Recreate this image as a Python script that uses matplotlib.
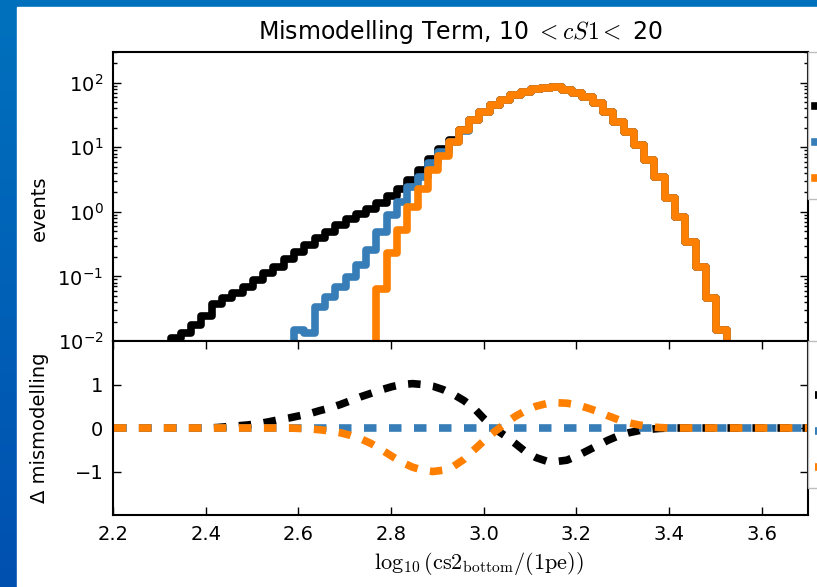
import numpy as np
import matplotlib
matplotlib.use('Agg')
import matplotlib.pyplot as plt
from matplotlib.patches import Rectangle
from matplotlib.colors import LinearSegmentedColormap

plt.rcParams['lines.scale_dashes'] = False

# binning in log10(cs2_bottom)
bin_lo = 2.1908
bin_width = 1 / 45
n_bins = 69

# events per bin
events_data = [0.002, 0.0025, 0.003, 0.004, 0.005, 0.0075, 0.011, 0.0135, 0.0177, 0.024,
               0.038, 0.046, 0.056, 0.069, 0.088, 0.112, 0.142, 0.184, 0.242, 0.307,
               0.389, 0.49, 0.625, 0.77, 0.93, 1.1, 1.36, 1.75, 2.3, 3.1,
               4.45, 6.5, 9.3, 13.0, 18.5, 26.5, 35.6, 45, 55, 64.5,
               72.6, 79, 84, 85, 77, 68.5, 59.4, 48, 35.6, 24.9,
               17.4, 10.8, 6.35, 3.5, 1.62, 0.84, 0.345, 0.142, 0.046, 0.0148,
               0, 0, 0, 0, 0, 0, 0, 0, 0]
events_nominal = [0, 0, 0, 0, 0, 0, 0, 0, 0, 0,
                  0, 0, 0, 0, 0, 0, 0, 0, 0.015, 0.0133,
                  0.034, 0.0475, 0.069, 0.099, 0.15, 0.257, 0.49, 0.9, 1.4, 2.4,
                  3.5, 5.65, 8.5, 12.2, 18.0, 26.5, 35.6, 45, 55, 64.5,
                  72.6, 79, 84, 85, 77, 68.5, 59.4, 48, 35.6, 24.9,
                  17.4, 10.8, 6.35, 3.5, 1.62, 0.84, 0.345, 0.142, 0.046, 0.0148,
                  0, 0, 0, 0, 0, 0, 0, 0, 0]
events_mismod = [0, 0, 0, 0, 0, 0, 0, 0, 0, 0,
                 0, 0, 0, 0, 0, 0, 0, 0, 0, 0,
                 0, 0, 0, 0, 0, 0, 0.063, 0.228, 0.53, 1.21,
                 2.3, 4.45, 7.4, 12.0, 18.5, 26.5, 35.6, 45, 55, 64.5,
                 72.6, 79, 84, 85, 77, 68.5, 59.4, 48, 35.6, 24.9,
                 17.4, 10.8, 6.35, 3.5, 1.62, 0.84, 0.345, 0.142, 0.046, 0.0148,
                 0, 0, 0, 0, 0, 0, 0, 0, 0]

# mismodelling term per bin
mism_data = [0, 0, 0, 0, 0, 0, 0, 0, 0, 0,
             0.01, 0.03, 0.05, 0.07, 0.1, 0.14, 0.19, 0.23, 0.28, 0.33,
             0.4, 0.46, 0.54, 0.63, 0.72, 0.8, 0.88, 0.95, 1.0, 1.02,
             1.0, 0.96, 0.88, 0.77, 0.63, 0.45, 0.2, -0.02, -0.18, -0.36,
             -0.55, -0.68, -0.76, -0.77, -0.74, -0.64, -0.52, -0.4, -0.28, -0.18,
             -0.11, -0.06, -0.03, -0.01, 0, 0, 0, 0, 0, 0,
             0, 0, 0, 0, 0, 0, 0, 0, 0]
mism_nominal = [0] * n_bins
mism_mismod = [0, 0, 0, 0, 0, 0, 0, 0, 0, 0,
               0, 0, 0, 0, 0, 0, 0, 0, -0.01, -0.02,
               -0.04, -0.07, -0.11, -0.17, -0.25, -0.36, -0.5, -0.65, -0.79, -0.9,
               -0.97, -1.0, -0.97, -0.88, -0.72, -0.5, -0.28, -0.08, 0.1, 0.27,
               0.4, 0.5, 0.56, 0.58, 0.57, 0.53, 0.46, 0.38, 0.28, 0.19,
               0.12, 0.07, 0.03, 0.01, 0, 0, 0, 0, 0, 0,
               0, 0, 0, 0, 0, 0, 0, 0, 0]

labels = ['data', 'model, no mismodelling', 'model + mismodelling']
colors = ['black', '#377eb8', '#ff7f00']

edges = bin_lo + bin_width * np.arange(n_bins + 1)
centers = edges[:-1] + bin_width / 2

W, H = 817, 587
fig = plt.figure(figsize=(W / 100, H / 100), dpi=100)

# slide background: blue frame on top and left
bg = fig.add_axes([0, 0, 1, 1], zorder=-10)
bg.axis('off')
blue = LinearSegmentedColormap.from_list('slide', ['#0071bd', '#0050b0'])
bg.imshow(np.linspace(0, 1, 256).reshape(-1, 1), cmap=blue, aspect='auto',
          extent=[0, 1, 0, 1])
bg.add_patch(Rectangle((17 / W, 0), 1, 1 - 7 / H, color='white'))
bg.set_xlim(0, 1)
bg.set_ylim(0, 1)

gs = fig.add_gridspec(2, 1, height_ratios=[289, 174], hspace=0,
                      left=113 / W, right=808 / W, top=1 - 52 / H, bottom=1 - 515 / H)
ax1 = fig.add_subplot(gs[0])
ax2 = fig.add_subplot(gs[1], sharex=ax1)

lw = 5.5
for vals, c, lab in zip([events_data, events_nominal, events_mismod], colors, labels):
    st = ax1.stairs(vals, edges, baseline=None, color=c, lw=lw, label=lab)
    st.set_joinstyle('round')

for vals, c, lab in zip([mism_data, mism_nominal, mism_mismod], colors, labels):
    ax2.plot(centers, vals, color=c, lw=lw, dashes=(9, 9), label=lab)

ax1.set_yscale('log')
ax1.set_ylim(1e-2, 3e2)
ax1.set_xlim(2.2, 3.7)
ax2.set_ylim(-2, 2)
ax2.set_yticks([-1, 0, 1])
ax2.set_xticks([2.2, 2.4, 2.6, 2.8, 3.0, 3.2, 3.4, 3.6])

for ax in (ax1, ax2):
    ax.tick_params(which='both', direction='in', right=True, labelsize=14, pad=7, width=1)
    ax.tick_params(which='major', length=6)
    ax.tick_params(which='minor', length=3)
    for s in ax.spines.values():
        s.set_linewidth(1.5)
ax1.tick_params(axis='x', which='both', bottom=False, top=False, labelbottom=False)
ax2.tick_params(axis='x', top=True)

ax1.set_title('Mismodelling Term, 10 $<cS1<$ 20', fontsize=17, pad=9,
              math_fontfamily='cm')
ax1.set_ylabel('events', fontsize=14)
ax2.set_ylabel('Δ mismodelling', fontsize=14)
ax1.yaxis.set_label_coords(-0.092, 0.46)
ax2.yaxis.set_label_coords(-0.092, 0.5)
ax2.set_xlabel(r'$\log_{10}(\mathrm{cs2}_{\mathrm{bottom}}/(1\mathrm{pe}))$',
               fontsize=16, math_fontfamily='cm')
ax2.xaxis.set_label_coords(0.527, -0.2)

# legends sit just outside the right edge
for ax in (ax1, ax2):
    ax.legend(title='sample', loc='upper left', bbox_to_anchor=(1.0, 1.0),
              borderaxespad=0, borderpad=0.3, fontsize=17.5, title_fontsize=17.5,
              fancybox=False, edgecolor='#bdbdbd', framealpha=1)

fig.savefig('out.png', dpi=100)
